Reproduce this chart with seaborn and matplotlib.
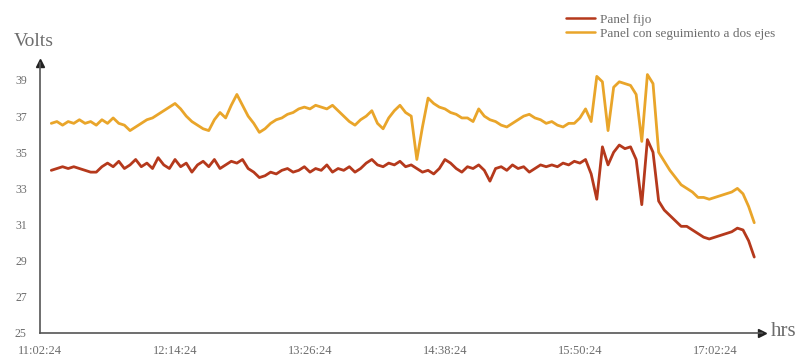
import matplotlib
matplotlib.use("Agg")
import matplotlib.pyplot as plt
import matplotlib.dates as mdates
import pandas as pd
import seaborn as sns

# Voltage readings every 3 minutes
fijo = [34.0, 34.1, 34.2, 34.1, 34.2, 34.1, 34.0, 33.9, 33.9, 34.2,
        34.4, 34.2, 34.5, 34.1, 34.3, 34.6, 34.2, 34.4, 34.1, 34.7,
        34.3, 34.1, 34.6, 34.2, 34.4, 33.9, 34.3, 34.5, 34.2, 34.6,
        34.1, 34.3, 34.5, 34.4, 34.6, 34.1, 33.9, 33.6, 33.7, 33.9,
        33.8, 34.0, 34.1, 33.9, 34.0, 34.2, 33.9, 34.1, 34.0, 34.3,
        33.9, 34.1, 34.0, 34.2, 33.9, 34.1, 34.4, 34.6, 34.3, 34.2,
        34.4, 34.3, 34.5, 34.2, 34.3, 34.1, 33.9, 34.0, 33.8, 34.1,
        34.6, 34.4, 34.1, 33.9, 34.2, 34.1, 34.3, 34.0, 33.4, 34.1,
        34.2, 34.0, 34.3, 34.1, 34.2, 33.9, 34.1, 34.3, 34.2, 34.3,
        34.2, 34.4, 34.3, 34.5, 34.4, 34.6, 33.8, 32.4, 35.3, 34.3,
        35.0, 35.4, 35.2, 35.3, 34.6, 32.1, 35.7, 35.0, 32.3, 31.8,
        31.5, 31.2, 30.9, 30.9, 30.7, 30.5, 30.3, 30.2, 30.3, 30.4,
        30.5, 30.6, 30.8, 30.7, 30.1, 29.2]

seguimiento = [36.6, 36.7, 36.5, 36.7, 36.6, 36.8, 36.6, 36.7, 36.5, 36.8,
               36.6, 36.9, 36.6, 36.5, 36.2, 36.4, 36.6, 36.8, 36.9, 37.1,
               37.3, 37.5, 37.7, 37.4, 37.0, 36.7, 36.5, 36.3, 36.2, 36.8,
               37.2, 36.9, 37.6, 38.2, 37.6, 37.0, 36.6, 36.1, 36.3, 36.6,
               36.8, 36.9, 37.1, 37.2, 37.4, 37.5, 37.4, 37.6, 37.5, 37.4,
               37.6, 37.3, 37.0, 36.7, 36.5, 36.8, 37.0, 37.3, 36.6, 36.3,
               36.9, 37.3, 37.6, 37.2, 37.0, 34.6, 36.4, 38.0, 37.7, 37.5,
               37.4, 37.2, 37.1, 36.9, 36.9, 36.7, 37.4, 37.0, 36.8, 36.7,
               36.5, 36.4, 36.6, 36.8, 37.0, 37.1, 36.9, 36.8, 36.6, 36.7,
               36.5, 36.4, 36.6, 36.6, 36.9, 37.4, 36.7, 39.2, 38.9, 36.2,
               38.6, 38.9, 38.8, 38.7, 38.2, 35.6, 39.3, 38.8, 35.0, 34.5,
               34.0, 33.6, 33.2, 33.0, 32.8, 32.5, 32.5, 32.4, 32.5, 32.6,
               32.7, 32.8, 33.0, 32.7, 32.0, 31.1]

series_names = ["Panel fijo", "Panel con seguimiento a dos ejes"]
colors = ["#b5391c", "#e9a52a"]
y_ticks = [25, 27, 29, 31, 33, 35, 37, 39]
x_tick_labels = ["11:02:24", "12:14:24", "13:26:24", "14:38:24", "15:50:24", "17:02:24"]

day = "2024-01-01 "
times = pd.date_range(day + "11:08:24", periods=len(fijo), freq="3min")

df = pd.concat([
    pd.DataFrame({"hora": times, "volts": fijo, "panel": series_names[0]}),
    pd.DataFrame({"hora": times, "volts": seguimiento, "panel": series_names[1]}),
])

sns.set_style("white")
plt.rcParams["font.family"] = ["Liberation Serif", "DejaVu Serif"]

fig = plt.figure(figsize=(8.01, 3.58), dpi=100)
ax = fig.add_axes([0.05, 0.07, 0.901, 0.754])

sns.lineplot(data=df, x="hora", y="volts", hue="panel", palette=colors,
             linewidth=2.0, ax=ax, legend=False)

ax.set_ylim(25, 39.94)
ax.set_xlim(pd.Timestamp(day + "11:02:24"), pd.Timestamp(day + "17:27:24"))
ax.set_yticks(y_ticks)
ax.set_xticks([pd.Timestamp(day + t) for t in x_tick_labels])
ax.xaxis.set_major_formatter(mdates.DateFormatter("%H:%M:%S"))

gray = "#6d6d6d"
for side in ["top", "right"]:
    ax.spines[side].set_visible(False)
for side in ["left", "bottom"]:
    ax.spines[side].set_color("#555555")
    ax.spines[side].set_linewidth(1.2)
ax.tick_params(axis="both", direction="inout", length=5, width=1,
               color="#666666", labelcolor=gray, labelsize=8.5)
ax.tick_params(axis="y", pad=7)
ax.tick_params(axis="x", labelsize=9, pad=6)
ax.set_xlabel("")
ax.set_ylabel("")

# arrow heads at the ends of the axes
ax.plot(1, 0, ">", color="#222222", markersize=6, transform=ax.transAxes, clip_on=False)
ax.plot(0, 1, "^", color="#222222", markersize=6, transform=ax.transAxes, clip_on=False)

fig.text(0.017, 0.86, "Volts", color=gray, fontsize=14, va="bottom")
fig.text(0.962, 0.075, "hrs", color=gray, fontsize=15, va="center")

handles = [plt.Line2D([], [], color=c, linewidth=1.8) for c in colors]
fig.legend(handles, series_names, loc="upper left", bbox_to_anchor=(0.692, 0.995),
           frameon=False, fontsize=9.5, labelcolor=gray, handlelength=2.2,
           handletextpad=0.4, labelspacing=0.15)

fig.savefig("out.png", dpi=100)
